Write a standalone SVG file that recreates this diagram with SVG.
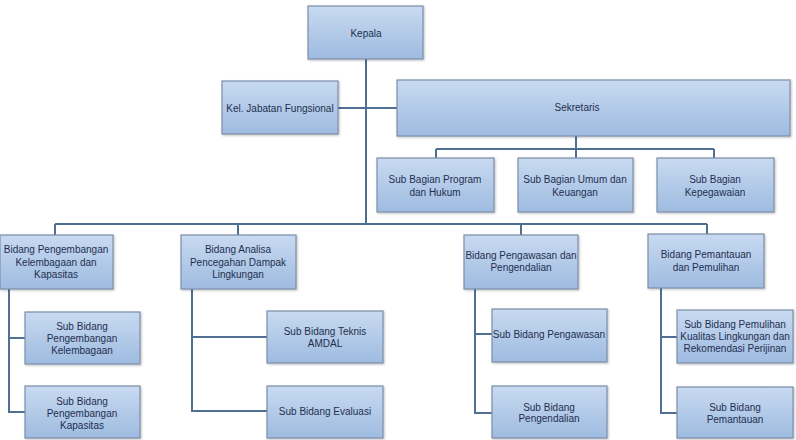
<svg xmlns="http://www.w3.org/2000/svg" width="796" height="440" viewBox="0 0 796 440">
<defs>
<linearGradient id="g" x1="0" y1="0" x2="0" y2="1">
<stop offset="0" stop-color="#c8daf1"/>
<stop offset="1" stop-color="#9ebbe0"/>
</linearGradient>
<filter id="sh" x="-10%" y="-10%" width="130%" height="130%">
<feDropShadow dx="1" dy="1" stdDeviation="0.8" flood-color="#000" flood-opacity="0.25"/>
</filter>
</defs>
<style>
.b{fill:url(#g);stroke:#7c8ea8;stroke-width:1.2;filter:url(#sh)}
.t{font-family:"Liberation Sans",Arial,sans-serif;font-size:10px;fill:#1f2f4f;text-anchor:middle}
.c{fill:none;stroke:#4f7092;stroke-width:2}
</style>
<rect width="796" height="440" fill="#fff"/>
<g id="connectors" class="c">
<path d="M366 59V224"/>
<path d="M338 108H397"/>
<path d="M576 136V149M436 149H714M436 149V158M576 149V158M714 149V158"/>
<path d="M55 224H707M55 224V235M238 224V235M521 224V235M707 224V234"/>
<path d="M9 289V412H25M9 338H25"/>
<path d="M192 289V411H267M192 337H267"/>
<path d="M475 289V413H492M475 334H492"/>
<path d="M661 288V413H677M661 337H677"/>
</g>
<g id="kepala"><rect class="b" x="308" y="6" width="115" height="53"/><text class="t" x="366" y="36.5">Kepala</text></g>
<g id="jabatan"><rect class="b" x="222" y="81" width="116" height="53"/><text class="t" x="280" y="111.5">Kel. Jabatan Fungsional</text></g>
<g id="sekretaris"><rect class="b" x="397" y="80" width="393" height="56"/><text class="t" x="577" y="111">Sekretaris</text></g>
<g id="sb-program"><rect class="b" x="377" y="158" width="117" height="54"/><text class="t" x="435" y="182.5">Sub Bagian Program</text><text class="t" x="435" y="195.5">dan Hukum</text></g>
<g id="sb-umum"><rect class="b" x="518" y="158" width="115" height="54"/><text class="t" x="575" y="182.5">Sub Bagian Umum dan</text><text class="t" x="575" y="195.5">Keuangan</text></g>
<g id="sb-kepeg"><rect class="b" x="657" y="158" width="117" height="54"/><text class="t" x="715" y="182.5">Sub Bagian</text><text class="t" x="715" y="195.5">Kepegawaian</text></g>
<g id="bid-pengembangan"><rect class="b" x="0" y="235" width="113" height="54"/><text class="t" x="56" y="252.5">Bidang Pengembangan</text><text class="t" x="56" y="265.5">Kelembagaan dan</text><text class="t" x="56" y="277.5">Kapasitas</text></g>
<g id="bid-analisa"><rect class="b" x="181" y="235" width="115" height="54"/><text class="t" x="238" y="252.5">Bidang Analisa</text><text class="t" x="238" y="265.5">Pencegahan Dampak</text><text class="t" x="238" y="277.5">Lingkungan</text></g>
<g id="bid-pengawasan"><rect class="b" x="464" y="235" width="114" height="54"/><text class="t" x="521" y="258.5">Bidang Pengawasan dan</text><text class="t" x="521" y="270.5">Pengendalian</text></g>
<g id="bid-pemantauan"><rect class="b" x="648" y="234" width="116" height="54"/><text class="t" x="706" y="257.5">Bidang Pemantauan</text><text class="t" x="706" y="270.5">dan Pemulihan</text></g>
<g id="sub-kelembagaan"><rect class="b" x="25" y="312" width="115" height="52"/><text class="t" x="82" y="329.5">Sub Bidang</text><text class="t" x="82" y="341.5">Pengembangan</text><text class="t" x="82" y="353.5">Kelembagaan</text></g>
<g id="sub-kapasitas"><rect class="b" x="25" y="386" width="115" height="52"/><text class="t" x="82" y="404.5">Sub Bidang</text><text class="t" x="82" y="416.5">Pengembangan</text><text class="t" x="82" y="428.5">Kapasitas</text></g>
<g id="sub-amdal"><rect class="b" x="267" y="311" width="116" height="52"/><text class="t" x="325" y="334.5">Sub Bidang Teknis</text><text class="t" x="325" y="346.5">AMDAL</text></g>
<g id="sub-evaluasi"><rect class="b" x="267" y="386" width="116" height="52"/><text class="t" x="325" y="414.5">Sub Bidang Evaluasi</text></g>
<g id="sub-pengawasan"><rect class="b" x="492" y="309" width="115" height="53"/><text class="t" x="549" y="337.5">Sub Bidang Pengawasan</text></g>
<g id="sub-pengendalian"><rect class="b" x="492" y="386" width="115" height="52"/><text class="t" x="549" y="410.5">Sub Bidang</text><text class="t" x="549" y="422">Pengendalian</text></g>
<g id="sub-pemulihan"><rect class="b" x="677" y="310" width="116" height="53"/><text class="t" x="735" y="328">Sub Bidang Pemulihan</text><text class="t" x="735" y="340">Kualitas Lingkungan dan</text><text class="t" x="735" y="352">Rekomendasi Perijinan</text></g>
<g id="sub-pemantauan"><rect class="b" x="677" y="387" width="116" height="51"/><text class="t" x="735" y="410.5">Sub Bidang</text><text class="t" x="735" y="422.5">Pemantauan</text></g>
</svg>
